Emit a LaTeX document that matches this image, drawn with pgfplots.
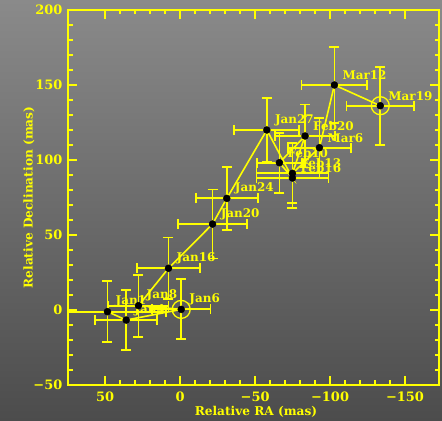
\documentclass[border=0pt]{standalone}
\usepackage{fontspec}
\setmainfont{DejaVu Serif}
\usepackage{pgfplots}
\pgfplotsset{compat=1.18}
\usepackage{pgfplotstable}
\definecolor{yel}{RGB}{255,255,0}
\definecolor{bgtop}{RGB}{138,138,138}
\definecolor{bgbot}{RGB}{76,76,76}
\newcommand{\lf}{\fontsize{12}{14}\selectfont\bfseries}
\newcommand{\tf}{\fontsize{13}{15}\selectfont\bfseries}
\newcommand{\af}{\fontsize{12.2}{14}\selectfont\bfseries}

\pgfplotstableread{
x y ex ey lab
48.5 -1.1 39 20.5 Jan1
36.0 -6.7 20.7 20 Jan4
-0.7 0.4 19.5 20 Jan6
27.8 2.9 20 20.7 Jan8
7.8 27.8 21 20.5 Jan16
-21.6 57.3 23 23 Jan20
-31.1 74.4 20.7 21 Jan24
-57.8 120 21.7 21.5 Jan27
-74.9 88.0 24 20 Feb16
-66.2 98.2 15 20 Feb10
-83.3 116 20 21 Feb20
-74.9 91.1 24 20 Feb13
-92.9 108.2 21 20 Mar6
-102.9 150 22 25.5 Mar12
-133.5 136.2 22.5 26 Mar19
}\pts

\begin{document}
\begin{tikzpicture}
\shade[top color=bgtop, bottom color=bgbot] (0,0) rectangle (442bp,421bp);
\begin{axis}[at={(68.5bp,36bp)}, anchor=south west, scale only axis,
  width=371bp, height=375bp,
  x dir=reverse, xmin=-173, xmax=74.5, ymin=-50, ymax=200,
  xtick={50,0,-50,-100,-150}, xticklabels={50,0,−50,−100,−150},
  ytick={-50,0,50,100,150,200}, yticklabels={−50,0,50,100,150,200},
  minor x tick num=4, minor y tick num=4,
  tick align=inside, major tick length=9bp, minor tick length=4.5bp,
  axis line style={yel, line width=2bp},
  every tick/.style={yel, line width=1.6bp},
  ticklabel style={yel, font=\tf, inner sep=0pt},
  yticklabel style={xshift=-6bp},
  xticklabel style={yshift=-7bp},
  xlabel={Relative RA (mas)}, ylabel={Relative Declination (mas)},
  label style={yel, font=\af},
  xlabel style={at={(axis description cs:0.5054,-0.072)}, anchor=center},
  ylabel style={at={(axis description cs:-0.1065,0.5)}, anchor=center},
]
\addplot[yel, line width=1.6bp, mark=*, mark size=3.5bp,
  mark options={fill=black, draw=black, line width=0.4bp},
  nodes near coords, point meta=explicit symbolic,
  every node near coord/.append style={anchor=west, inner sep=0pt, xshift=8bp, yshift=10bp, text=yel, font=\lf},
  error bars/.cd, x dir=both, x explicit, y dir=both, y explicit,
  error bar style={draw=yel, line width=1.8bp},
  error mark options={rotate=90, draw=yel, mark size=5bp, line width=1.8bp}]
  table[x=x, y=y, x error=ex, y error=ey, meta=lab] {\pts};
\addplot[only marks, mark=o, mark size=9bp, mark options={draw=yel, line width=1.3bp}]
  coordinates {(-0.7,0.4) (-133.5,136.2)};
\end{axis}
\pgfresetboundingbox
\path[use as bounding box] (0,0) rectangle (442bp,421bp);
\end{tikzpicture}
\end{document}
